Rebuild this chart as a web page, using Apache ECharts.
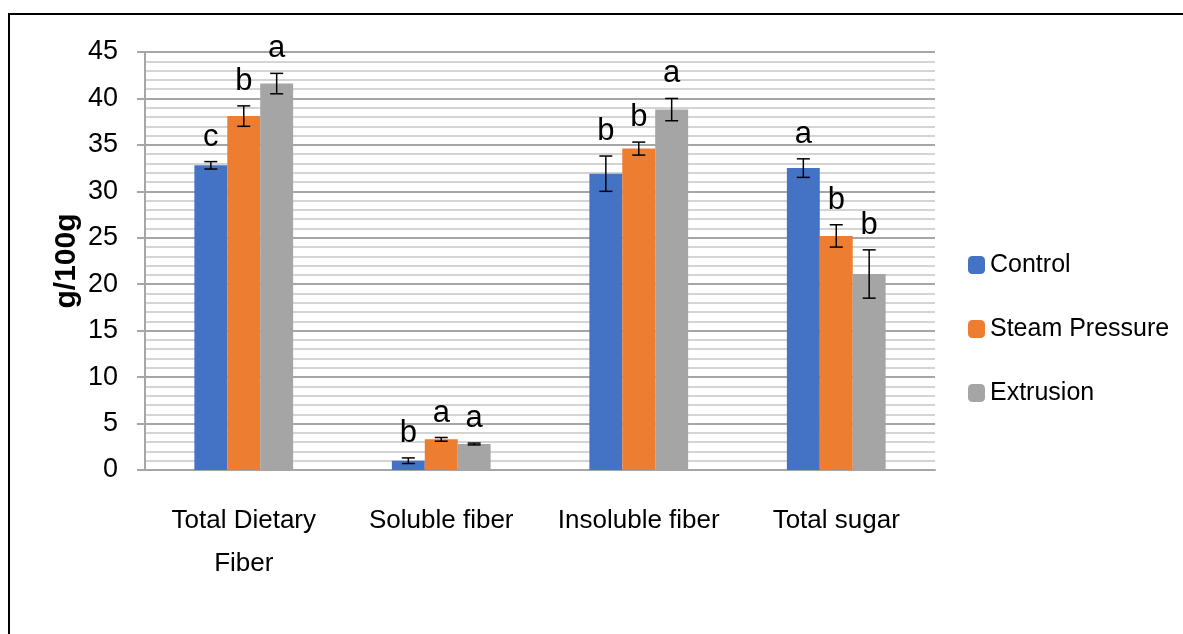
<!DOCTYPE html>
<html>
<head>
<meta charset="utf-8">
<script src="https://cdn.jsdelivr.net/npm/echarts@6/dist/echarts.min.js"></script>
<style>
html,body{margin:0;padding:0;background:#fff;}
#chart{width:1183px;height:634px;}
</style>
</head>
<body>
<div id="chart"></div>
<script>
const categories = ['Total Dietary\nFiber', 'Soluble fiber', 'Insoluble fiber', 'Total sugar'];
const seriesNames = ['Control', 'Steam Pressure', 'Extrusion'];
const control = [32.8, 1.0, 31.9, 32.5];
const steam = [38.1, 3.3, 34.6, 25.2];
const extrusion = [41.6, 2.8, 38.8, 21.1];
const controlErr = [0.4, 0.3, 1.9, 1.0];
const steamErr = [1.1, 0.2, 0.7, 1.2];
const extrusionErr = [1.1, 0.1, 1.2, 2.6];
const controlLetters = ['c', 'b', 'b', 'a'];
const steamLetters = ['b', 'a', 'b', 'b'];
const extrusionLetters = ['a', 'a', 'a', 'b'];
const yTicks = { min: 0, max: 45, interval: 5 };

const FONT = "'Liberation Sans Narrow', 'Liberation Sans', Arial, sans-serif";
const colors = ['#4472C4', '#ED7D31', '#A5A5A5'];
const values = [control, steam, extrusion];
const errs = [controlErr, steamErr, extrusionErr];
const letters = [controlLetters, steamLetters, extrusionLetters];

const chart = echarts.init(document.getElementById('chart'), null, { renderer: 'canvas' });

const barSeries = seriesNames.map((name, k) => ({
  name: name,
  type: 'bar',
  data: values[k],
  barGap: '0%',
  barCategoryGap: '50%',
  itemStyle: { color: colors[k] },
  z: 2
}));

const errSeries = seriesNames.map((name, k) => ({
  type: 'custom',
  name: name + ' err',
  z: 5,
  silent: true,
  data: values[k].map((v, i) => [i, v, errs[k][i]]),
  renderItem: function (params, api) {
    const ci = api.value(0), v = api.value(1), e = api.value(2);
    const pTop = api.coord([ci, v + e]);
    const pBot = api.coord([ci, v - e]);
    const bandW = api.size([1, 0])[0];
    const bw = bandW * 0.5 / 3;
    const x = pTop[0] + (k - 1) * bw;
    const cap = 6.5;
    const st = { stroke: '#000', lineWidth: 1.5 };
    return {
      type: 'group',
      children: [
        { type: 'line', shape: { x1: x, y1: pTop[1], x2: x, y2: pBot[1] }, style: st },
        { type: 'line', shape: { x1: x - cap, y1: pTop[1], x2: x + cap, y2: pTop[1] }, style: st },
        { type: 'line', shape: { x1: x - cap, y1: pBot[1], x2: x + cap, y2: pBot[1] }, style: st },
        { type: 'text', style: {
            text: letters[k][params.dataIndex], x: x, y: pTop[1] - 9,
            align: 'center', verticalAlign: 'bottom',
            font: "31px " + FONT, fill: '#000' } }
      ]
    };
  }
}));

chart.setOption({
  animation: false,
  backgroundColor: '#fff',
  graphic: [{
    type: 'rect', shape: { x: 9, y: 14, width: 1185, height: 640 },
    style: { fill: 'none', stroke: '#000', lineWidth: 2 }, z: 0
  }],
  grid: { left: 145, right: 248, top: 52, bottom: 164, containLabel: false },
  legend: {
    orient: 'vertical',
    left: 963, top: 246,
    itemWidth: 17, itemHeight: 18,
    itemGap: 36,
    data: seriesNames,
    textStyle: { fontFamily: FONT, fontSize: 25, color: '#000', lineHeight: 28 }
  },
  xAxis: {
    type: 'category',
    data: categories,
    axisLine: { show: true, lineStyle: { color: '#a6a6a6', width: 2 } },
    axisTick: { show: false },
    axisLabel: { fontFamily: FONT, fontSize: 26, color: '#000', margin: 29, lineHeight: 43, interval: 0 }
  },
  yAxis: {
    type: 'value',
    min: yTicks.min, max: yTicks.max, interval: yTicks.interval,
    name: 'g/100g',
    nameLocation: 'middle',
    nameGap: 63,
    nameMoveOverlap: false,
    nameRotate: 90,
    nameTextStyle: { fontFamily: "'Liberation Sans', Arial, sans-serif", fontWeight: 'bold', fontSize: 30, color: '#000' },
    axisLine: { show: true, lineStyle: { color: '#a6a6a6', width: 2 } },
    axisTick: { show: true, length: 8, lineStyle: { color: '#a6a6a6', width: 2 } },
    axisLabel: { fontFamily: FONT, fontSize: 27, color: '#000', margin: 27 },
    splitLine: { show: true, lineStyle: { color: '#a6a6a6', width: 2 } },
    minorTick: { show: false, splitNumber: 5 },
    minorSplitLine: { show: true, lineStyle: { color: '#d4d4d4', width: 2 } }
  },
  series: barSeries.concat(errSeries)
});
</script>
</body>
</html>
